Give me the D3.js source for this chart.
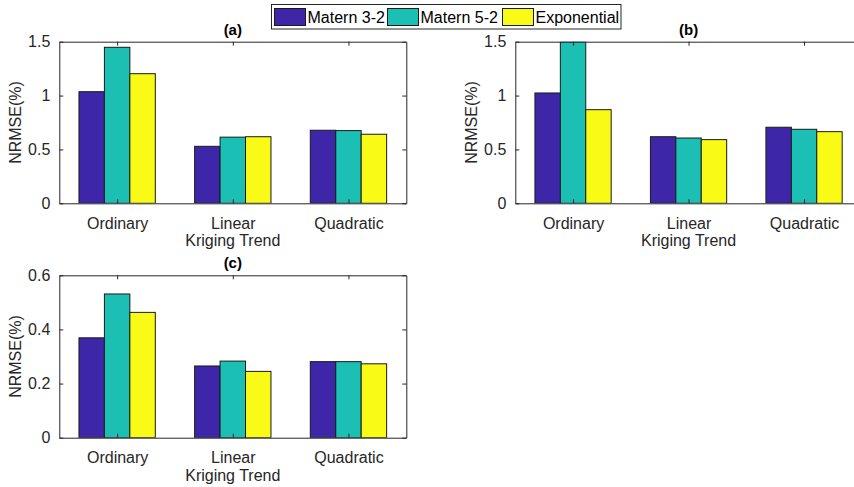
<!DOCTYPE html>
<html>
<head>
<meta charset="utf-8">
<script src="https://cdn.jsdelivr.net/npm/d3@7"></script>
<style>
  html, body { margin: 0; padding: 0; background: #fff; }
  svg { display: block; font-family: "Liberation Sans", Arial, sans-serif; }
</style>
</head>
<body>
<svg id="chart" width="854" height="487"></svg>
<script>
// Kriging trend types on the x axis
const categories = ["Ordinary", "Linear", "Quadratic"];
// Covariance kernels (one bar per kernel inside each group)
const seriesNames = ["Matern 3-2", "Matern 5-2", "Exponential"];
const seriesColors = ["#3e26a8", "#1bbfb3", "#f9fa15"];

// NRMSE (%) values, [kernel][trend]
const valuesA = [
  [1.036, 0.529, 0.678],
  [1.448, 0.614, 0.675],
  [1.203, 0.618, 0.641]
];
const valuesB = [
  [1.024, 0.618, 0.706],
  [1.500, 0.606, 0.687],
  [0.869, 0.591, 0.665]
];
const valuesC = [
  [0.369, 0.265, 0.281],
  [0.531, 0.283, 0.281],
  [0.463, 0.245, 0.273]
];

const ticksAB = [0, 0.5, 1, 1.5];
const tickLabelsAB = ["0", "0.5", "1", "1.5"];
const ticksC = [0, 0.2, 0.4, 0.6];
const tickLabelsC = ["0", "0.2", "0.4", "0.6"];

const svg = d3.select("#chart");
const axisColor = "#262626";
const fontSize = 16;

function panel(cfg) {
  const { left, right, top, bottom, values, yMax, ticks, tickLabels, title } = cfg;
  const g = svg.append("g");

  const x = d3.scaleLinear().domain([0.5, 3.5]).range([left, right]);
  const y = d3.scaleLinear().domain([0, yMax]).range([bottom, top]);
  const barW = 0.22;

  const clipId = "clip-" + title.replace(/[^a-z]/g, "");
  svg.append("clipPath").attr("id", clipId)
    .append("rect").attr("x", left).attr("y", top)
    .attr("width", right - left).attr("height", bottom - top);

  // bars
  const bars = g.append("g").attr("clip-path", `url(#${clipId})`);
  values.forEach((row, s) => {
    bars.selectAll(null).data(row).enter().append("rect")
      .attr("x", (d, i) => x(i + 1 + (s - 1) * barW - barW / 2))
      .attr("width", x(barW) - x(0))
      .attr("y", d => y(Math.min(d, yMax)))
      .attr("height", d => y(0) - y(Math.min(d, yMax)))
      .attr("fill", seriesColors[s])
      .attr("stroke", "#1a1a1a")
      .attr("stroke-width", 1);
  });

  const catTicks = categories.map((c, i) => i + 1);

  // bottom axis (ticks pointing inward)
  const xAxis = d3.axisBottom(x).tickValues(catTicks)
    .tickFormat((d, i) => categories[i]).tickSizeInner(-4).tickSizeOuter(0).tickPadding(14);
  const gx = g.append("g").attr("transform", `translate(0,${bottom})`).call(xAxis);

  // top axis
  const gxt = g.append("g").attr("transform", `translate(0,${top})`)
    .call(d3.axisTop(x).tickValues(catTicks).tickFormat("").tickSizeInner(-4).tickSizeOuter(0));

  // left axis
  const yAxis = d3.axisLeft(y).tickValues(ticks)
    .tickFormat((d, i) => tickLabels[i]).tickSizeInner(-4).tickSizeOuter(0).tickPadding(9);
  const gy = g.append("g").attr("transform", `translate(${left},0)`).call(yAxis);

  // right axis
  const gyr = g.append("g").attr("transform", `translate(${right},0)`)
    .call(d3.axisRight(y).tickValues(ticks).tickFormat("").tickSizeInner(-4).tickSizeOuter(0));

  [gx, gxt, gy, gyr].forEach(a => {
    a.select(".domain").attr("stroke", axisColor).attr("stroke-width", 1);
    a.selectAll(".tick line").attr("stroke", axisColor);
    a.selectAll(".tick text").attr("fill", axisColor)
      .style("font-size", fontSize + "px").style("font-family", "Liberation Sans, Arial, sans-serif");
  });
  gx.selectAll(".tick text").attr("dy", "0.71em");

  // title, centred over the visible part of the axes
  g.append("text")
    .attr("x", (left + Math.min(right, 854)) / 2 + (right > 854 ? (right - 854) / 2 : 0))
    .attr("y", top - 7)
    .attr("text-anchor", "middle")
    .attr("font-weight", "bold")
    .attr("font-size", 15)
    .attr("fill", "#000")
    .text(title);

  // axis labels
  g.append("text")
    .attr("x", x(2))
    .attr("y", bottom + 43)
    .attr("text-anchor", "middle")
    .attr("font-size", fontSize)
    .attr("fill", axisColor)
    .text("Kriging Trend");

  g.append("text")
    .attr("transform", `translate(${left - 38},${(top + bottom) / 2}) rotate(-90)`)
    .attr("text-anchor", "middle")
    .attr("font-size", fontSize)
    .attr("fill", axisColor)
    .text("NRMSE(%)");
}

panel({ left: 59.3, right: 406.3, top: 41.7, bottom: 203.3,
        values: valuesA, yMax: 1.5, ticks: ticksAB, tickLabels: tickLabelsAB, title: "(a)" });
panel({ left: 515.3, right: 861.8, top: 41.7, bottom: 203.3,
        values: valuesB, yMax: 1.5, ticks: ticksAB, tickLabels: tickLabelsAB, title: "(b)" });
panel({ left: 59.3, right: 406.3, top: 275.3, bottom: 437.7,
        values: valuesC, yMax: 0.6, ticks: ticksC, tickLabels: tickLabelsC, title: "(c)" });

// legend
const legend = svg.append("g");
legend.append("rect")
  .attr("x", 271.5).attr("y", 4.5).attr("width", 349.5).attr("height", 24.5)
  .attr("fill", "#fff").attr("stroke", "#262626").attr("stroke-width", 1);
const legendX = [274.5, 387.5, 502.5];
seriesNames.forEach((name, i) => {
  legend.append("rect")
    .attr("x", legendX[i]).attr("y", 8.5).attr("width", 31).attr("height", 17)
    .attr("fill", seriesColors[i]).attr("stroke", "#1a1a1a").attr("stroke-width", 1);
  legend.append("text")
    .attr("x", legendX[i] + 33).attr("y", 17.5).attr("dy", "0.35em")
    .attr("font-size", fontSize).attr("fill", "#000")
    .text(name);
});
</script>
</body>
</html>
